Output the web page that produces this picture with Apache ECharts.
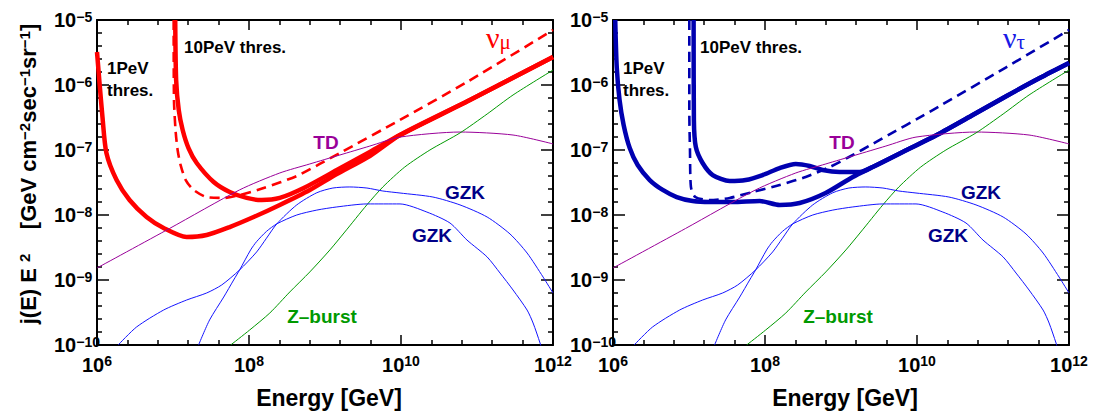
<!DOCTYPE html>
<html>
<head>
<meta charset="utf-8">
<script src="https://cdn.jsdelivr.net/npm/echarts@6/dist/echarts.min.js"></script>
<style>
html,body{margin:0;padding:0;background:#fff;}
#c{width:1096px;height:411px;}
</style>
</head>
<body>
<div id="c"></div>
<script>
// ---------------- data (E [GeV], j(E)E^2 [GeV cm^-2 s^-1 sr^-1]) ----------------
const X_TICK_EXPONENTS = [6, 8, 10, 12];
const Y_TICK_EXPONENTS = [-10, -9, -8, -7, -6, -5];

const TD = [[1.0e6,1.53e-9],[9.0e6,6.2e-9],[7.5e7,2.43e-8],[2.54e8,4.43e-8],[6.31e8,6.1e-8],[1.57e9,8.38e-8],[3.89e9,1.15e-7],[9.7e9,1.58e-7],[5.97e10,1.89e-7],[2.98e11,1.70e-7],[1.0e12,1.24e-7]];

const ZBURST = [[5.74e7,1.0e-10],[1.02e8,1.70e-10],[1.88e8,3.11e-10],[3.44e8,6.54e-10],[6.31e8,1.33e-9],[1.16e9,2.9e-9],[1.82e9,5.47e-9],[3.55e9,1.43e-8],[5.77e9,2.70e-8],[1.12e10,5.47e-8],[2.4e10,1.0e-7],[5.97e10,1.83e-7],[1.36e11,3.58e-7],[2.98e11,7.02e-7],[1.0e12,1.70e-6]];

const GZK_UPPER = [[1.9e6,1.0e-10],[3.31e6,1.89e-10],[7.52e6,3.45e-10],[1.51e7,4.92e-10],[2.77e7,6.31e-10],[4.37e7,8.38e-10],[7.53e7,1.43e-9],[1.26e8,2.7e-9],[1.7e8,4.4e-9],[2.32e8,7.3e-9],[4.25e8,1.43e-8],[7.8e8,2.2e-8],[1.27e9,2.6e-8],[2.12e9,2.7e-8],[3.56e9,2.6e-8],[5.77e9,2.34e-8],[9.7e9,2.18e-8],[2.63e10,1.89e-8],[5.97e10,1.43e-8],[1.36e11,9.31e-9],[2.72e11,5.1e-9],[4.56e11,2.6e-9],[7.41e11,1.11e-9],[1.0e12,6.31e-10]];

const GZK_LOWER = [[2.17e7,1.0e-10],[3.03e7,2.43e-10],[4.65e7,5.47e-10],[6.28e7,1.0e-9],[7.53e7,1.43e-9],[1.05e8,2.9e-9],[1.26e8,3.9e-9],[1.7e8,5.6e-9],[2.32e8,7.3e-9],[4.25e8,1.0e-8],[7.8e8,1.19e-8],[1.43e9,1.33e-8],[3.56e9,1.48e-8],[9.7e9,1.48e-8],[2.19e10,1.11e-8],[4.41e10,7.53e-9],[7.38e10,4.12e-9],[1.36e11,2.26e-9],[2.01e11,1.28e-9],[2.98e11,7.02e-10],[4.56e11,3.45e-10],[5.47e11,2.18e-10],[6.76e11,1.07e-10],[6.97e11,9.3e-11]];

const NUMU_1PEV = [[1.0e6,3.22e-6],[1.08e6,1.07e-6],[1.18e6,3.22e-7],[1.33e6,8.99e-8],[1.81e6,3.45e-8],[2.68e6,1.70e-8],[4.49e6,9.31e-9],[7.52e6,6.31e-9],[1.51e7,4.59e-9],[2.77e7,4.92e-9],[5.57e7,6.53e-9],[1.15e8,9.31e-9],[2.54e8,1.43e-8],[6.31e8,2.43e-8],[1.43e9,4.27e-8],[3.89e9,8.09e-8],[9.7e9,1.70e-7],[8.07e10,5.87e-7],[1.0e12,2.70e-6]];

const NUMU_10PEV = [[1.07e7,1.0e-5],[1.1e7,1.19e-6],[1.19e7,4.12e-7],[1.34e7,2.03e-7],[1.6e7,1.07e-7],[2.05e7,6.31e-8],[3.43e7,3.22e-8],[5.57e7,2.26e-8],[9.33e7,1.83e-8],[1.47e8,1.70e-8],[2.54e8,1.83e-8],[5.25e8,2.6e-8],[1.43e9,4.92e-8],[3.89e9,9.31e-8],[9.7e9,1.70e-7],[8.07e10,5.87e-7],[1.0e12,2.70e-6]];

const NUMU_10PEV_DASHED = [[1.02e7,1.0e-5],[1.03e7,5.87e-7],[1.08e7,2.03e-7],[1.15e7,1.0e-7],[1.26e7,5.87e-8],[1.47e7,3.45e-8],[1.87e7,2.43e-8],[2.77e7,1.89e-8],[4.65e7,1.83e-8],[7.53e7,2.03e-8],[1.56e8,2.6e-8],[4.25e8,3.98e-8],[8.53e8,6.1e-8],[1.57e9,8.99e-8],[9.7e9,2.9e-7],[7.38e10,1.11e-6],[1.0e12,7.02e-6]];

const NUTAU_1PEV = [[1.07e6,1.0e-5],[1.12e6,1.89e-6],[1.22e6,5.87e-7],[1.38e6,2.43e-7],[1.66e6,1.07e-7],[2.11e6,5.87e-8],[3.04e6,3.45e-8],[4.51e6,2.43e-8],[6.89e6,1.89e-8],[1.12e7,1.64e-8],[1.87e7,1.58e-8],[3.76e7,1.58e-8],[8.51e7,1.64e-8],[1.56e8,1.43e-8],[2.86e8,1.53e-8],[6.28e8,2.18e-8],[1.43e9,3.85e-8],[2.61e9,5.47e-8],[7.31e9,1.0e-7],[1.82e10,1.70e-7],[5.41e10,3.45e-7],[1.51e11,6.78e-7],[4.11e11,1.28e-6],[1.0e12,2.18e-6]];

const NUTAU_10PEV = [[1.15e7,1.0e-5],[1.16e7,2.9e-7],[1.23e7,1.11e-7],[1.51e7,6.31e-8],[2.05e7,4.12e-8],[3.43e7,3.33e-8],[5.57e7,3.45e-8],[9.31e7,4.12e-8],[1.56e8,5.28e-8],[2.54e8,6.1e-8],[3.87e8,5.68e-8],[5.74e8,4.92e-8],[9.61e8,4.59e-8],[1.76e9,4.59e-8],[2.61e9,5.47e-8],[7.31e9,1.0e-7],[1.82e10,1.70e-7],[5.41e10,3.45e-7],[1.51e11,6.78e-7],[4.11e11,1.28e-6],[1.0e12,2.18e-6]];

const NUTAU_10PEV_DASHED = [[1.01e7,1.0e-5],[1.01e7,3.71e-7],[1.03e7,1.0e-7],[1.06e7,2.7e-8],[1.21e7,1.89e-8],[1.87e7,1.70e-8],[3.43e7,1.83e-8],[6.89e7,2.26e-8],[1.56e8,2.9e-8],[3.43e8,3.85e-8],[7.1e8,5.47e-8],[1.43e9,8.38e-8],[2.61e9,1.24e-7],[1.99e10,4.75e-7],[1.51e11,1.89e-6],[1.0e12,7.02e-6]];

// ---------------- style ----------------
const FONT = "'Liberation Sans', Arial, Helvetica, sans-serif";
const SERIF = "'Liberation Serif', 'Times New Roman', serif";
const RED = '#ff0000';
const NAVY = '#0000b0';
const GZK_BLUE = '#1414ff';
const TD_PURPLE = '#990099';
const Z_GREEN = '#009900';

const chart = echarts.init(document.getElementById('c'), null, {renderer: 'svg'});

const xRich = {
  b: {fontFamily: FONT, fontWeight: 'bold', fontSize: 20, lineHeight: 22, color: '#000'},
  s: {fontFamily: FONT, fontWeight: 'bold', fontSize: 14, lineHeight: 3, verticalAlign: 'top', color: '#000'}
};
const yRich = {
  b: {fontFamily: FONT, fontWeight: 'bold', fontSize: 20, lineHeight: 20, color: '#000'},
  s: {fontFamily: FONT, fontWeight: 'bold', fontSize: 14, lineHeight: 6, verticalAlign: 'top', color: '#000'}
};

const axisLine = {show: true, onZero: false, lineStyle: {color: '#000', width: 2}};
const tickLine = {color: '#000', width: 1.5};

function xValueAxis(g, pos) {
  return {
    type: 'value', gridIndex: g, position: pos, min: 6, max: 12, interval: 2,
    axisLine: axisLine,
    axisTick: {show: true, inside: true, length: 10, lineStyle: tickLine},
    minorTick: {show: true, splitNumber: 5, length: 5, lineStyle: tickLine},
    splitLine: {show: false}, minorSplitLine: {show: false},
    axisLabel: pos === 'bottom' ? {
      show: true, margin: 9, showMinLabel: true, showMaxLabel: true,
      formatter: v => X_TICK_EXPONENTS.indexOf(v) >= 0 ? '{b|10}{s|' + v + '}' : '',
      rich: xRich
    } : {show: false},
    name: pos === 'bottom' ? 'Energy [GeV]' : '',
    nameLocation: 'middle', nameGap: 41,
    nameTextStyle: {fontFamily: FONT, fontWeight: 'bold', fontSize: 23, color: '#000', padding: [0, 0, 0, 8]}
  };
}
function yValueAxis(g, pos) {
  return {
    type: 'value', gridIndex: g, position: pos, min: -10, max: -5, interval: 1,
    axisLine: axisLine,
    axisTick: {show: true, inside: true, length: 12, lineStyle: tickLine},
    minorTick: {show: true, splitNumber: 5, length: 5, lineStyle: tickLine},
    splitLine: {show: false}, minorSplitLine: {show: false},
    axisLabel: pos === 'left' ? {
      show: true, margin: 43, align: 'left', showMinLabel: true, showMaxLabel: true,
      formatter: v => Y_TICK_EXPONENTS.indexOf(v) >= 0 ? '{b|10}{s|\u2212' + Math.abs(v) + '}' : '',
      rich: yRich
    } : {show: false}
  };
}
function xLogAxis(g) {
  return {type: 'log', logBase: 10, gridIndex: g, min: 1e6, max: 1e12, show: false};
}
function yLogAxis(g) {
  return {type: 'log', logBase: 10, gridIndex: g, min: 1e-10, max: 1e-5, show: false};
}

function line(data, g, color, width, dashed) {
  return {
    type: 'line', xAxisIndex: g * 3, yAxisIndex: g * 3, data: data,
    showSymbol: false, symbol: 'none', smooth: 0.25, silent: true, animation: false,
    clip: true,
    lineStyle: {color: color, width: width, type: dashed ? [10, 6] : 'solid', cap: 'butt', join: 'round'}
  };
}

function panelSeries(g, c1, c10, c10d, color) {
  return [
    line(c1, g, color, 4.5, false),
    line(c10, g, color, 4.5, false),
    line(c10d, g, color, 2.6, true),
    line(TD, g, TD_PURPLE, 1, false),
    line(ZBURST, g, Z_GREEN, 1, false),
    line(GZK_UPPER, g, GZK_BLUE, 1, false),
    line(GZK_LOWER, g, GZK_BLUE, 1, false)
  ];
}

// ---------------- text labels ----------------
function txt(x, y, text, color, size, align) {
  return {
    type: 'text', x: x, y: y, silent: true,
    style: {text: text, fill: color, fontFamily: FONT, fontWeight: 'bold', fontSize: size,
            align: align || 'left', verticalAlign: 'middle',
            textAlign: align || 'left', textVerticalAlign: 'middle'}
  };
}
function panelLabels(dx) {
  return [
    txt(107 + dx, 68, '1PeV', '#000', 17),
    txt(107 + dx, 90, 'thres.', '#000', 17),
    txt(184 + dx, 47, '10PeV thres.', '#000', 17),
    txt(326 + dx, 142, 'TD', TD_PURPLE, 19, 'center'),
    txt(465 + dx, 192, 'GZK', '#000088', 19, 'center'),
    txt(432 + dx, 235, 'GZK', '#000088', 19, 'center'),
    txt(322 + dx, 316, 'Z\u2013burst', Z_GREEN, 19, 'center')
  ];
}
function nuLabel(x, y, sub, color) {
  return {
    type: 'text', x: x, y: y, silent: true,
    style: {
      text: '{n|\u03bd}{u|' + sub + '}', align: 'left', verticalAlign: 'middle',
      textAlign: 'left', textVerticalAlign: 'middle',
      rich: {
        n: {fontFamily: SERIF, fontSize: 30, lineHeight: 30, fill: color, color: color},
        u: {fontFamily: SERIF, fontSize: 21, lineHeight: 17, verticalAlign: 'bottom', fill: color, color: color}
      }
    }
  };
}
const yTitle = {
  type: 'text', x: 28.5, y: 174, rotation: Math.PI / 2, silent: true,
  style: {
    text: '{m|j(E) E }{s|2}{m|    [GeV cm}{s|\u22122}{m|sec}{s|\u22121}{m|sr}{s|\u22121}{m|]}',
    align: 'center', verticalAlign: 'middle', textAlign: 'center', textVerticalAlign: 'middle',
    rich: {
      m: {fontFamily: FONT, fontWeight: 'bold', fontSize: 22, lineHeight: 24, color: '#000', fill: '#000'},
      s: {fontFamily: FONT, fontWeight: 'bold', fontSize: 15, lineHeight: 6, verticalAlign: 'top', color: '#000', fill: '#000'}
    }
  }
};

const option = {
  animation: false,
  backgroundColor: '#fff',
  grid: [
    {left: 97, right: 543, top: 20, bottom: 66, containLabel: false, outerBoundsMode: 'none'},
    {left: 613, right: 27, top: 20, bottom: 66, containLabel: false, outerBoundsMode: 'none'}
  ],
  xAxis: [
    xLogAxis(0), xValueAxis(0, 'bottom'), xValueAxis(0, 'top'),
    xLogAxis(1), xValueAxis(1, 'bottom'), xValueAxis(1, 'top')
  ],
  yAxis: [
    yLogAxis(0), yValueAxis(0, 'left'), yValueAxis(0, 'right'),
    yLogAxis(1), yValueAxis(1, 'left'), yValueAxis(1, 'right')
  ],
  series: [].concat(
    panelSeries(0, NUMU_1PEV, NUMU_10PEV, NUMU_10PEV_DASHED, RED),
    panelSeries(1, NUTAU_1PEV, NUTAU_10PEV, NUTAU_10PEV_DASHED, NAVY)
  ),
  graphic: [].concat(
    panelLabels(0), panelLabels(516),
    [nuLabel(486, 37, '\u03bc', RED), nuLabel(1003, 37, '\u03c4', '#1a1ae6'), yTitle]
  )
};
chart.setOption(option);
</script>
</body>
</html>
